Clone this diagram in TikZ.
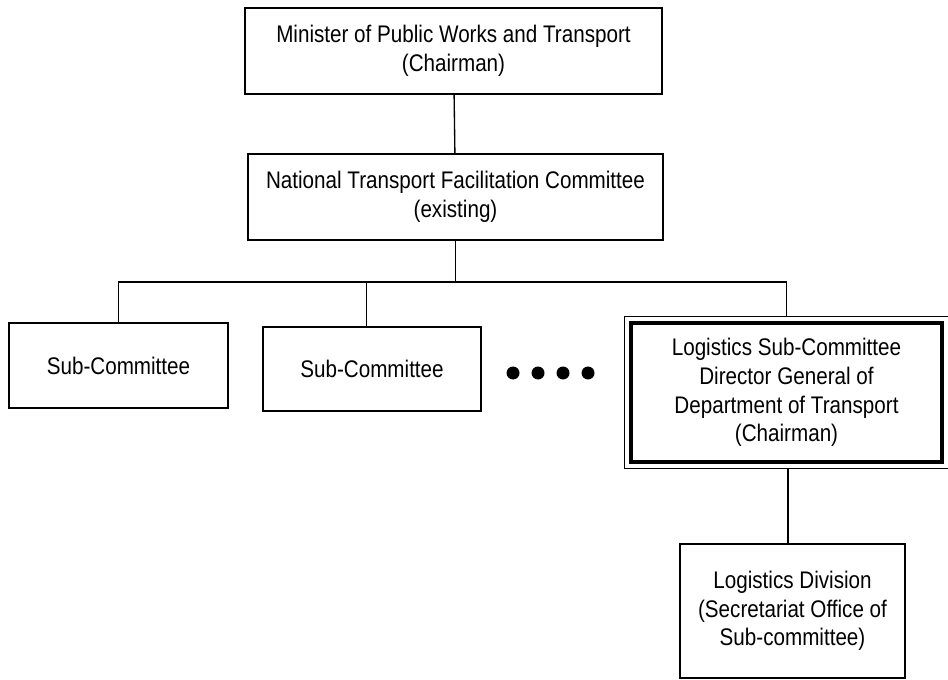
\documentclass[tikz,border=0pt]{standalone}
\usepackage{fontspec}
\setmainfont[FakeStretch=0.86]{Liberation Sans}
\usetikzlibrary{fit}
\begin{document}
\begin{tikzpicture}[x=0.75pt, y=-0.75pt,
  every node/.style={font=\fontsize{18}{21.5}\selectfont, align=center, inner sep=0pt},
  orgbox/.style 2 args={draw, line width=1.1pt, minimum width=#1*0.75pt, minimum height=#2*0.75pt},
  heavybox/.style 2 args={draw, line width=3.2pt, minimum width=#1*0.75pt, minimum height=#2*0.75pt},
  link/.style={line width=1pt},
  dotmark/.style={circle, fill=black, minimum size=13*0.75pt}]
\useasboundingbox (0,0) rectangle (948,680);

% committee hierarchy
\node[orgbox={417}{86}] (minister) at (453.5,51) {Minister of Public Works and Transport\\(Chairman)};
\node[orgbox={415}{86}] (ntfc) at (455.5,197) {National Transport Facilitation Committee\\(existing)};
\node[orgbox={219}{85}] (sub1) at (118.5,365.5) {Sub-Committee};
\node[orgbox={218}{84}] (sub2) at (372,369) {Sub-Committee};
\node[heavybox={311}{139}] (logsub) at (786.5,392.5)
  {Logistics Sub-Committee\\Director General of\\Department of Transport\\(Chairman)};
\node[fit=(logsub), inner sep=3.2pt, draw, line width=0.9pt] (logframe) {};
\node[orgbox={225}{134}] (logdiv) at (792.5,611)
  {Logistics Division\\(Secretariat Office of\\Sub-committee)};

% further sub-committees
\node[dotmark] (d1) at (513,373) {};
\node[dotmark] (d2) at (538,373) {};
\node[dotmark] (d3) at (563,373) {};
\node[dotmark] (d4) at (588,373) {};

% connectors
\coordinate (busy) at (0,282);
\draw[link] (minister) -- (ntfc);
\draw[link] (ntfc.south) -- (ntfc.south |- busy);
\draw[link] (sub1.north) -- (sub1.north |- busy) -| (logframe.north);
\draw[link] ([xshift=-4]sub2.north) -- ([xshift=-4]sub2.north |- busy);
\draw[link] ([xshift=1]logframe.south) -- ([xshift=1]logframe.south |- logdiv.north);
\end{tikzpicture}
\end{document}
